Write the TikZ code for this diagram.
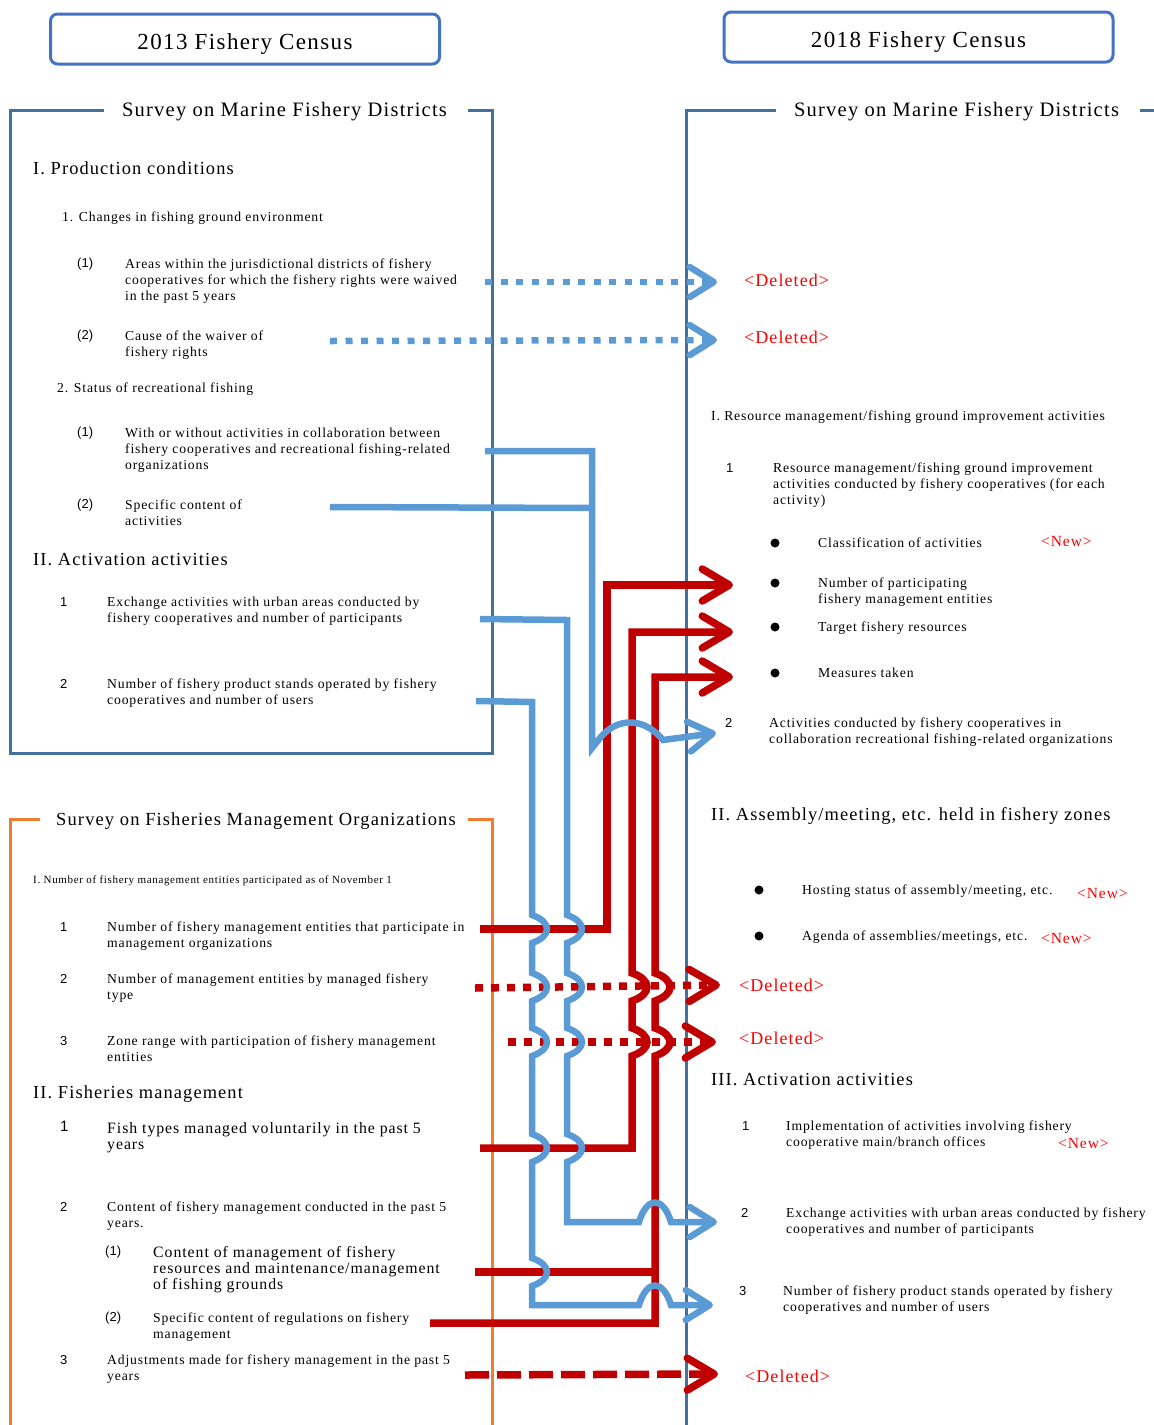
\documentclass[tikz,border=0pt]{standalone}
\usepackage{fontspec}
\setmainfont{Liberation Serif}[LetterSpace=6]
\setsansfont{Liberation Sans}
\usetikzlibrary{arrows.meta}

\definecolor{censusblue}{HTML}{4472C4}
\definecolor{surveyblue}{HTML}{41719C}
\definecolor{surveyorange}{HTML}{ED7D31}
\definecolor{linkblue}{HTML}{5B9BD5}
\definecolor{linkred}{HTML}{C00000}
\definecolor{notered}{HTML}{FF0000}

\begin{document}
\begin{tikzpicture}[x=1pt, y=-1pt,
      census/.style={draw=censusblue, line width=3pt, rounded corners=7pt,
                     minimum width=389pt, minimum height=50pt,
                     text height=21pt, text depth=0pt,
                     font=\fontsize{23}{26}\selectfont},
      survey/.style={inner sep=0pt, font=\fontsize{20.5}{24}\selectfont},
      head/.style={anchor=north west, inner sep=0pt, font=\fontsize{18.4}{22}\selectfont},
      item/.style={anchor=north west, inner sep=0pt, align=left,
                   font=\fontsize{13.7}{16}\selectfont},
      bigitem/.style={item, font=\fontsize{15.8}{16}\selectfont},
      tinyitem/.style={item, font=\fontsize{11}{13}\selectfont},
      num/.style={anchor=north west, inner sep=0pt,
                  font=\sffamily\fontsize{13}{16}\selectfont},
      dot/.style={circle, fill=black, inner sep=0pt, minimum size=9pt},
      deleted/.style={anchor=west, inner sep=0pt, text=notered,
                      font=\fontsize{18}{22}\selectfont},
      new/.style={anchor=west, inner sep=0pt, text=notered,
                  font=\fontsize{15.5}{18}\selectfont},
      blueframe/.style={draw=surveyblue, line width=3pt},
      orangeframe/.style={draw=surveyorange, line width=3pt},
      bluelink/.style={draw=linkblue, line width=6.5pt},
      bluehead/.style={-{Straight Barb[length=24pt, width=30pt, round]}},
      redlink/.style={draw=linkred, line width=7.5pt},
      redhead/.style={-{Straight Barb[length=27pt, width=32pt, round]}},
      bluedots/.style={dash pattern=on 7pt off 8.5pt},
      reddots/.style={dash pattern=on 8pt off 8pt},
      reddash/.style={dash pattern=on 24pt off 8pt},
      vhop/.style 2 args={insert path={-- (#1,#2-14)
          .. controls (#1+20,#2-7) and (#1+20,#2+7) .. (#1,#2+14)}},
      uhop/.style 2 args={insert path={-- (#1,#2+14)
          .. controls (#1+20,#2+7) and (#1+20,#2-7) .. (#1,#2-14)}},
      hhop/.style 2 args={insert path={-- (#1-16,#2)
          .. controls (#1-8,#2-26) and (#1+8,#2-26) .. (#1+16,#2)}}]
    \useasboundingbox (0,0) rectangle (1154,1425);

    % titles and frames
    \node[census] (c13) at (245,39)   {2013 Fishery Census};
    \node[census] (c18) at (918.5,37) {2018 Fishery Census};
    \node[survey] (mfd13) at (284.5,112) {Survey on Marine Fishery Districts};
    \node[survey] (mfd18) at (956.5,112) {Survey on Marine Fishery Districts};
    \node[survey, font=\fontsize{18.5}{22}\selectfont]
                  (fmo13) at (256,821)   {Survey on Fisheries Management Organizations};
    \draw[blueframe] (104,110) -- (10,110) -- (10,753) -- (492,753) -- (492,110) -- (468,110);
    \draw[blueframe] (776,110) -- (686,110) -- (686,1425);
    \draw[blueframe] (1140,110) -- (1154,110);
    \draw[orangeframe] (40,819) -- (10,819) -- (10,1425);
    \draw[orangeframe] (468,819) -- (492,819) -- (492,1425);

    % 2013, marine fishery districts
    \node[head] (prod)   at (33,162)  {I. Production conditions};
    \node[item] (chg)    at (62,212)  {1. Changes in fishing ground environment};
    \node[num]  (p11)    at (77,258)  {(1)};
    \node[item] (areas)  at (125,259) {Areas within the jurisdictional districts of fishery\\cooperatives for which the fishery rights were waived\\in the past 5 years};
    \node[num]  (p12)    at (77,330)  {(2)};
    \node[item] (cause)  at (125,331) {Cause of the waiver of\\fishery rights};
    \node[item] (recr)   at (57,383)  {2. Status of recreational fishing};
    \node[num]  (p21)    at (77,427)  {(1)};
    \node[item] (collab) at (125,428) {With or without activities in collaboration between\\fishery cooperatives and recreational fishing-related\\organizations};
    \node[num]  (p22)    at (77,499)  {(2)};
    \node[item] (spec)   at (125,500) {Specific content of\\activities};
    \node[head] (act13)  at (33,553)  {II. Activation activities};
    \node[num]  (a1)     at (60,597)  {1};
    \node[item] (exch13) at (107,597) {Exchange activities with urban areas conducted by\\fishery cooperatives and number of participants};
    \node[num]  (a2)     at (60,679)  {2};
    \node[item] (stand13) at (107,679) {Number of fishery product stands operated by fishery\\cooperatives and number of users};

    % 2013, fisheries management organizations
    \node[tinyitem] (nument) at (33,876) {I. Number of fishery management entities participated as of November 1};
    \node[num]  (m1)      at (60,922)  {1};
    \node[item] (partic)  at (107,922) {Number of fishery management entities that participate in\\management organizations};
    \node[num]  (m2)      at (60,974)  {2};
    \node[item] (bytype)  at (107,974) {Number of management entities by managed fishery\\type};
    \node[num]  (m3)      at (60,1036) {3};
    \node[item] (zone)    at (107,1036) {Zone range with participation of fishery management\\entities};
    \node[head] (fm)      at (33,1086) {II. Fisheries management};
    \node[num, font=\sffamily\fontsize{15}{16}\selectfont] (f1) at (60,1121) {1};
    \node[bigitem] (fishtypes) at (107,1122) {Fish types managed voluntarily in the past 5\\years};
    \node[num]  (f2)      at (60,1202) {2};
    \node[item] (fmcont)  at (107,1202) {Content of fishery management conducted in the past 5\\years.};
    \node[num]  (f21)     at (105,1246) {(1)};
    \node[bigitem] (resmgmt) at (153,1246) {Content of management of fishery\\resources and maintenance/management\\of fishing grounds};
    \node[num]  (f22)     at (105,1312) {(2)};
    \node[item] (regs)    at (153,1313) {Specific content of regulations on fishery\\management};
    \node[num]  (f3)      at (60,1355) {3};
    \node[item] (adjust)  at (107,1355) {Adjustments made for fishery management in the past 5\\years};

    % 2018, marine fishery districts
    \node[deleted] (del1) at (744,280) {<Deleted>};
    \node[deleted] (del2) at (744,337) {<Deleted>};
    \node[item] (resI)    at (711,411) {I. Resource management/fishing ground improvement activities};
    \node[num]  (r1)      at (726,463) {1};
    \node[item] (res1)    at (773,463) {Resource management/fishing ground improvement\\activities conducted by fishery cooperatives (for each\\activity)};
    \node[dot]  (d1)      at (775,543) {};
    \node[item] (classif) at (818,538) {Classification of activities};
    \node[new]  (new1)    at (1041,541) {<New>};
    \node[dot]  (d2)      at (775,583) {};
    \node[item] (nparti)  at (818,578) {Number of participating\\fishery management entities};
    \node[dot]  (d3)      at (775,627) {};
    \node[item] (target)  at (818,622) {Target fishery resources};
    \node[dot]  (d4)      at (775,673) {};
    \node[item] (measures) at (818,668) {Measures taken};
    \node[num]  (r2)      at (725,718) {2};
    \node[item] (collab18) at (769,718) {Activities conducted by fishery cooperatives in\\collaboration recreational fishing-related organizations};
    \node[head] (assem)   at (711,807) {II. Assembly/meeting, etc. held in fishery zones};
    \node[dot]  (d5)      at (759,890) {};
    \node[item] (host)    at (802,885) {Hosting status of assembly/meeting, etc.};
    \node[new]  (new2)    at (1077,893) {<New>};
    \node[dot]  (d6)      at (759,936) {};
    \node[item] (agenda)  at (802,931) {Agenda of assemblies/meetings, etc.};
    \node[new]  (new3)    at (1041,938) {<New>};
    \node[deleted] (del3) at (739,985)  {<Deleted>};
    \node[deleted] (del4) at (739,1038) {<Deleted>};
    \node[head] (act18)   at (711,1073) {III. Activation activities};
    \node[num]  (s1)      at (742,1121) {1};
    \node[item] (offices) at (786,1121) {Implementation of activities involving fishery\\cooperative main/branch offices};
    \node[new]  (new4)    at (1058,1143) {<New>};
    \node[num]  (s2)      at (741,1208) {2};
    \node[item] (exch18)  at (786,1208) {Exchange activities with urban areas conducted by fishery\\cooperatives and number of participants};
    \node[num]  (s3)      at (739,1286) {3};
    \node[item] (stand18) at (783,1286) {Number of fishery product stands operated by fishery\\cooperatives and number of users};
    \node[deleted] (del5) at (745,1376) {<Deleted>};

    % free ends of the links
    \coordinate (fromAreas)   at (485,282);
    \coordinate (fromCause)   at (330,341);
    \coordinate (fromCollab)  at (485,451);
    \coordinate (fromSpec)    at (330,507);
    \coordinate (fromExch)    at (480,619);
    \coordinate (fromStand)   at (476,701);
    \coordinate (fromPartic)  at (480,929);
    \coordinate (fromByType)  at (475,988);
    \coordinate (fromZone)    at (508,1042);
    \coordinate (fromFish)    at (480,1148);
    \coordinate (fromResMgmt) at (475,1272);
    \coordinate (fromRegs)    at (430,1323);
    \coordinate (fromAdjust)  at (465,1375);
    \coordinate (toDel1)    at (717,282);
    \coordinate (toDel2)    at (717,340);
    \coordinate (toNparti)  at (733,585);
    \coordinate (toTarget)  at (733,632);
    \coordinate (toMeasures) at (733,677);
    \coordinate (toCollab)  at (716,733);
    \coordinate (toDel3)    at (720,985);
    \coordinate (toDel4)    at (716,1042);
    \coordinate (toExch)    at (717,1222);
    \coordinate (toStand)   at (713,1305);
    \coordinate (toDel5)    at (718,1374);

    % red links
    \draw[redlink, redhead, reddots] (fromByType) -- (toDel3);
    \draw[redlink, redhead, reddots] (fromZone) -- (toDel4);
    \draw[redlink, redhead, reddash] (fromAdjust) -- (toDel5);
    \draw[redlink, redhead] (fromPartic) -| (607,585) -- (toNparti);
    \draw[redlink, redhead] (fromFish) -- (632,1148) [uhop={632}{1042}] [uhop={632}{987}]
        -- (632,632) -- (toTarget);
    \draw[redlink, redhead] (fromRegs) -- (655,1323) [uhop={655}{1042}] [uhop={655}{987}]
        -- (655,677) -- (toMeasures);
    \draw[redlink] (fromResMgmt) -- (655,1272);

    % blue links
    \draw[bluelink, bluehead, bluedots] (fromAreas) -- (toDel1);
    \draw[bluelink, bluehead, bluedots] (fromCause) -- (toDel2);
    \draw[bluelink] (fromSpec) -- (592,508);
    \draw[bluelink, bluehead] (fromCollab) -| (592,748) -- (600,738)
        .. controls (618,716) and (645,718) .. (663,740) -- (toCollab);
    \draw[bluelink, bluehead] (fromExch) -- (567,620) [vhop={567}{929}] [vhop={567}{987}]
        [vhop={567}{1042}] [vhop={567}{1148}] -- (567,1222) [hhop={655}{1222}] -- (toExch);
    \draw[bluelink, bluehead] (fromStand) -- (532,702) [vhop={532}{929}] [vhop={532}{987}]
        [vhop={532}{1042}] [vhop={532}{1148}] [vhop={532}{1272}] -- (532,1305)
        [hhop={655}{1305}] -- (toStand);
  \end{tikzpicture}
\end{document}
